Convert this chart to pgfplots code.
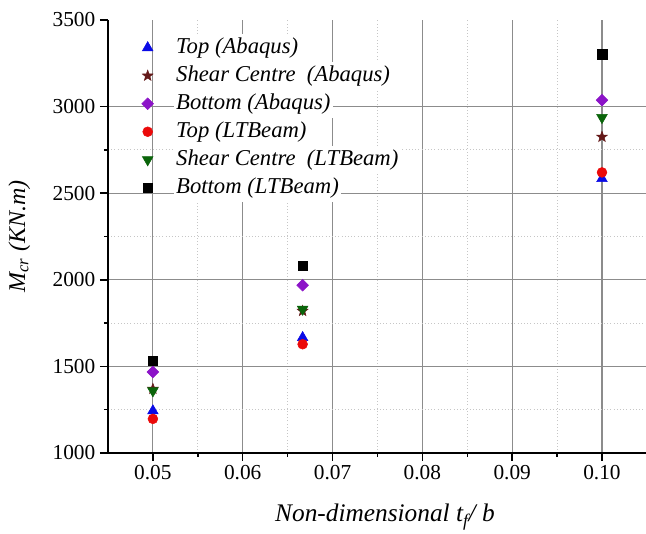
\documentclass[border=0pt]{standalone}
\usepackage{pgfplots}
\pgfplotsset{compat=1.18}
\usepackage{fontspec}
\setmainfont{Liberation Serif}
\definecolor{mblue}{RGB}{10,10,230}
\definecolor{mstar}{RGB}{100,25,25}
\definecolor{mviolet}{RGB}{140,20,200}
\definecolor{mred}{RGB}{235,10,10}
\definecolor{mgreen}{RGB}{10,100,10}
\pgfdeclareplotmark{fstar}{%
  \pgfpathmoveto{\pgfpointpolar{90}{\pgfplotmarksize}}%
  \pgfpathlineto{\pgfpointpolar{126}{0.42\pgfplotmarksize}}%
  \pgfpathlineto{\pgfpointpolar{162}{\pgfplotmarksize}}%
  \pgfpathlineto{\pgfpointpolar{198}{0.42\pgfplotmarksize}}%
  \pgfpathlineto{\pgfpointpolar{234}{\pgfplotmarksize}}%
  \pgfpathlineto{\pgfpointpolar{270}{0.42\pgfplotmarksize}}%
  \pgfpathlineto{\pgfpointpolar{306}{\pgfplotmarksize}}%
  \pgfpathlineto{\pgfpointpolar{342}{0.42\pgfplotmarksize}}%
  \pgfpathlineto{\pgfpointpolar{18}{\pgfplotmarksize}}%
  \pgfpathlineto{\pgfpointpolar{54}{0.42\pgfplotmarksize}}%
  \pgfpathclose
  \pgfusepathqfillstroke
}
\begin{document}
\begin{tikzpicture}
\begin{axis}[
  name=ax,
  scale only axis,
  width=403.5pt, height=324.75pt,
  xmin=0.045, xmax=0.1049,
  ymin=1000, ymax=3500,
  axis lines=left,
  axis line style={-, line width=1.1pt, black},
  tick align=outside,
  major tick length=6pt, minor tick length=3pt,
  every tick/.style={black, line width=1.1pt},
  xtick={0.05,0.06,0.07,0.08,0.09,0.10},
  xticklabels={0.05,0.06,0.07,0.08,0.09,0.10},
  ytick={1000,1500,2000,2500,3000},
  extra y ticks={3500},
  extra y tick style={grid=none},
  minor tick num=1,
  grid=both,
  major grid style={gray!90, line width=0.85pt},
  minor grid style={gray!45, dotted, line width=0.7pt},
  /pgf/number format/assume math mode=true,
  /pgf/number format/1000 sep={},
  tick label style={font=\fontsize{16}{18}\selectfont},
  xlabel={\textit{Non-dimensional t\textsubscript{f}/ b}},
  ylabel={\textit{M\textsubscript{cr} (KN.m)}},
  xlabel style={font=\fontsize{19}{22}\selectfont, yshift=-11pt, xshift=6pt},
  ylabel style={font=\fontsize{18}{21}\selectfont, yshift=-2pt},
  legend cell align=left,
  legend style={at={(0.055,0.975)}, anchor=north west, draw=none, fill=none,
    row sep=0pt, column sep=15pt, font=\fontsize{17}{20}\selectfont,
    nodes={fill=white, inner sep=2pt, text height=12.8pt, text depth=4.2pt}},
]
\addplot[only marks, mark=triangle*, mark size=4.6pt, color=mblue] coordinates {(0.05,1243) (0.06667,1666) (0.10,2584)};
\addlegendentry{\textit{Top (Abaqus)}}
\addplot[only marks, mark=fstar, mark size=4.2pt, color=mstar] coordinates {(0.05,1370) (0.06667,1820) (0.10,2825)};
\addlegendentry{\textit{Shear Centre~ (Abaqus)}}
\addplot[only marks, mark=square*, mark size=3.1pt, mark options={rotate=45}, color=mviolet] coordinates {(0.05,1468) (0.06667,1969) (0.10,3037)};
\addlegendentry{\textit{Bottom (Abaqus)}}
\addplot[only marks, mark=*, mark size=3.7pt, color=mred] coordinates {(0.05,1197) (0.06667,1628) (0.10,2620)};
\addlegendentry{\textit{Top (LTBeam)}}
\addplot[only marks, mark=triangle*, mark size=4.6pt, mark options={rotate=180}, color=mgreen] coordinates {(0.05,1359) (0.06667,1830) (0.10,2937)};
\addlegendentry{\textit{Shear Centre~ (LTBeam)}}
\addplot[only marks, mark=square*, mark size=3.6pt, color=black] coordinates {(0.05,1532) (0.06667,2081) (0.10,3303)};
\addlegendentry{\textit{Bottom (LTBeam)}}
\end{axis}
\pgfresetboundingbox
\path ([shift={(-81pt,-60.75pt)}]ax.south west) rectangle ([shift={(0pt,15pt)}]ax.north east);
\end{tikzpicture}
\end{document}
